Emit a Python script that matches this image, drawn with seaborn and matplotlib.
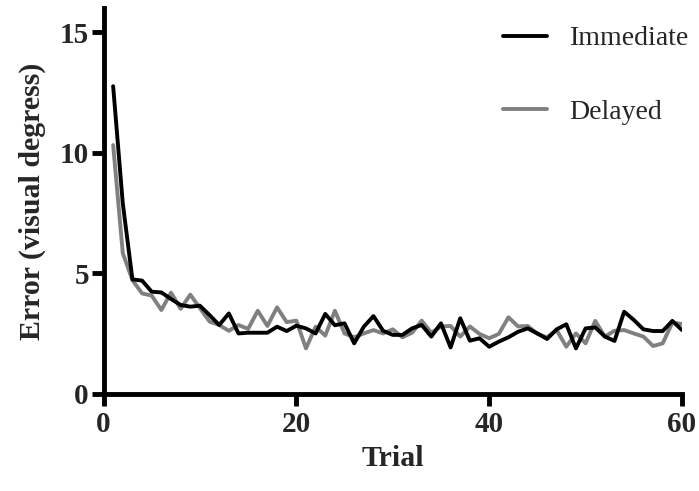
import matplotlib
matplotlib.use("Agg")
import matplotlib.pyplot as plt
from matplotlib.lines import Line2D
import numpy as np
import pandas as pd
import seaborn as sns

# Mean localisation error per trial for the two feedback conditions
trials = list(range(1, 61))
immediate = [
    12.76, 7.9, 4.75, 4.70, 4.24, 4.21, 3.94, 3.69, 3.62, 3.66,
    3.27, 2.86, 3.34, 2.51, 2.54, 2.54, 2.54, 2.79, 2.61, 2.83,
    2.72, 2.51, 3.32, 2.85, 2.93, 2.10, 2.79, 3.23, 2.62, 2.45,
    2.45, 2.72, 2.86, 2.38, 2.93, 1.93, 3.14, 2.21, 2.31, 1.96,
    2.17, 2.35, 2.58, 2.72, 2.51, 2.28, 2.68, 2.89, 1.89, 2.72,
    2.76, 2.38, 2.20, 3.41, 3.07, 2.68, 2.61, 2.61, 3.03, 2.65,
]
delayed = [
    10.32, 5.84, 4.72, 4.17, 4.08, 3.48, 4.20, 3.53, 4.12, 3.56,
    3.00, 2.86, 2.62, 2.86, 2.70, 3.45, 2.82, 3.59, 2.98, 3.04,
    1.89, 2.79, 2.42, 3.45, 2.51, 2.35, 2.51, 2.65, 2.51, 2.68,
    2.35, 2.54, 3.04, 2.54, 2.80, 2.82, 2.38, 2.80, 2.49, 2.31,
    2.49, 3.18, 2.80, 2.82, 2.49, 2.35, 2.65, 1.96, 2.51, 2.10,
    3.03, 2.38, 2.62, 2.65, 2.51, 2.38, 1.99, 2.10, 2.96, 2.90,
]
conditions = ["Immediate", "Delayed"]
colors = {"Immediate": "#000000", "Delayed": "#808080"}

x_ticks = [0, 20, 40, 60]
y_ticks = [0, 5, 10, 15]

df = pd.concat([
    pd.DataFrame({"Trial": trials, "Error": immediate, "Condition": "Immediate"}),
    pd.DataFrame({"Trial": trials, "Error": delayed, "Condition": "Delayed"}),
], ignore_index=True)

sns.set_style("ticks")
plt.rcParams["font.family"] = ["Liberation Serif", "DejaVu Serif"]

W, H = 699, 491
fig = plt.figure(figsize=(W / 100, H / 100), dpi=100)
ax = fig.add_axes([103.5 / W, 1 - 394 / H, (682 - 103.5) / W, (394 - 8) / H])

# grey series underneath, black on top
sns.lineplot(data=df, x="Trial", y="Error", hue="Condition",
             hue_order=["Delayed", "Immediate"], palette=colors,
             linewidth=2.8, ax=ax, legend=False)

ax.set_xlim(0, 60)
ax.set_ylim(0, 16)
ax.set_xticks(x_ticks)
ax.set_yticks(y_ticks)

for side in ["top", "right"]:
    ax.spines[side].set_visible(False)
for side in ["left", "bottom"]:
    ax.spines[side].set_linewidth(3.5)
    ax.spines[side].set_color("black")
    ax.spines[side].set_capstyle("projecting")

ax.tick_params(axis="both", which="major", length=8.5, width=3.5,
               direction="out", color="black", labelsize=21, pad=2)
ax.tick_params(axis="x", pad=4)
for lab in ax.get_xticklabels() + ax.get_yticklabels():
    lab.set_fontweight("bold")

ax.set_xlabel("Trial", fontsize=21.5, fontweight="bold", labelpad=5)
ax.set_ylabel("Error (visual degress)", fontsize=21.5, fontweight="bold", labelpad=10)

handles = [Line2D([], [], color=colors[c], linewidth=2.8) for c in conditions]
fig.legend(handles, conditions, loc="upper left",
           bbox_to_anchor=(503 / W, 1 - 26 / H), frameon=False,
           fontsize=20, handlelength=1.6, handletextpad=0.8,
           labelspacing=1.72, borderpad=0, borderaxespad=0)

fig.savefig("out.png", dpi=100)
